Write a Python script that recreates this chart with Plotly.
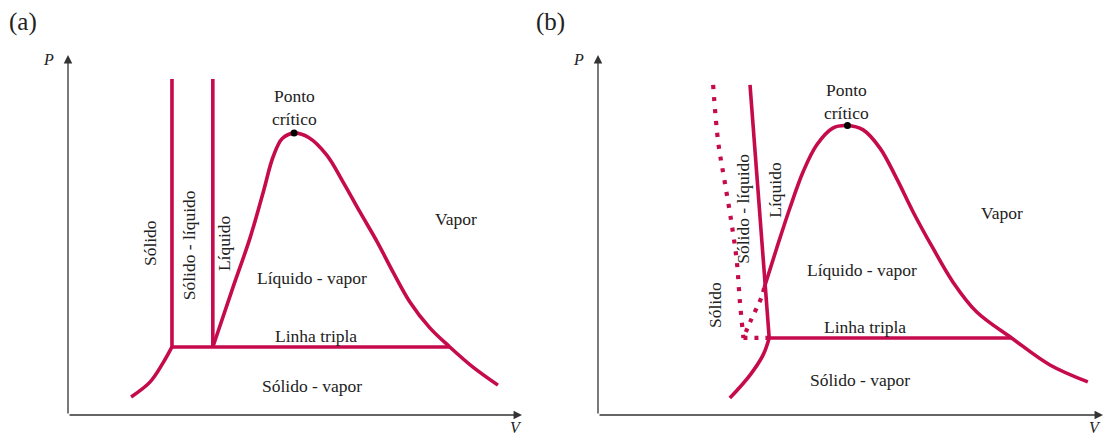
import plotly.graph_objects as go

RED = "#C50B4C"
FONT = "Liberation Serif"

# ---------------- Panel (a) data (arbitrary V, P units) ----------------
a_solid_liq_left_v = [2.29, 2.29]
a_solid_liq_left_p = [9.33, 1.89]
a_solid_liq_right_v = [3.19, 3.19]
a_solid_liq_right_p = [9.33, 1.89]
a_triple_v = [2.29, 8.41]
a_triple_p = [1.89, 1.89]
a_dome_v = [3.19, 3.63, 4.01, 4.30, 4.52, 4.72, 4.98, 5.30, 5.70, 6.06, 6.43, 6.81,
            7.16, 7.53, 7.97, 8.41, 8.92, 9.47]
a_dome_p = [1.89, 3.53, 4.92, 6.19, 7.18, 7.68, 7.83, 7.71, 7.22, 6.47, 5.64, 4.81,
            3.97, 3.14, 2.42, 1.89, 1.33, 0.83]
a_subl_v = [1.39, 1.81, 2.09, 2.29]
a_subl_p = [0.50, 0.92, 1.44, 1.89]
a_crit = (4.98, 7.83)

# ---------------- Panel (b) data ----------------
b_dotted_fus_v = [2.28, 2.38, 2.51, 2.65, 2.75, 2.81, 2.88]
b_dotted_fus_p = [9.17, 7.58, 6.47, 5.28, 4.25, 3.14, 2.14]
b_fus_v = [3.01, 3.39]
b_fus_p = [9.17, 2.14]
b_dome_v = [3.29, 3.54, 3.80, 4.06, 4.33, 4.65, 4.94, 5.25, 5.58, 5.91, 6.24, 6.63,
            7.03, 7.50, 8.19, 8.95, 9.70]
b_dome_p = [3.53, 4.64, 5.75, 6.75, 7.50, 7.97, 8.04, 7.92, 7.42, 6.58, 5.64, 4.64,
            3.69, 2.86, 2.14, 1.39, 0.92]
b_dotted_dome_v = [3.29, 3.24, 3.01, 2.88]
b_dotted_dome_p = [3.53, 3.28, 2.58, 2.14]
b_dotted_triple_v = [2.88, 3.39]
b_dotted_triple_p = [2.14, 2.14]
b_triple_v = [3.39, 8.19]
b_triple_p = [2.14, 2.14]
b_subl_v = [2.61, 3.01, 3.27, 3.39]
b_subl_p = [0.47, 1.11, 1.67, 2.14]
b_crit = (4.94, 8.04)

# labels: (text, V, P, angle)
a_labels = [
    ("Ponto<br>crítico", 4.98, 8.54, 0),
    ("Sólido", 1.81, 4.78, -90),
    ("Sólido - líquido", 2.67, 4.72, -90),
    ("Líquido", 3.44, 4.78, -90),
    ("Vapor", 8.55, 5.44, 0),
    ("Líquido - vapor", 5.37, 3.81, 0),
    ("Linha tripla", 5.46, 2.19, 0),
    ("Sólido - vapor", 5.37, 0.80, 0),
]
b_labels = [
    ("Ponto<br>crítico", 4.93, 8.72, 0),
    ("Sólido - líquido", 2.88, 5.74, -90),
    ("Líquido", 3.50, 6.25, -90),
    ("Sólido", 2.32, 3.06, -90),
    ("Vapor", 7.99, 5.60, 0),
    ("Líquido - vapor", 5.22, 4.03, 0),
    ("Linha tripla", 5.29, 2.45, 0),
    ("Sólido - vapor", 5.19, 0.97, 0),
]

W, H = 1105, 436
fig = go.Figure()

def line(xs, ys, xa, ya, dash="solid", shape="linear", width=3.6):
    fig.add_trace(go.Scatter(x=xs, y=ys, mode="lines", xaxis=xa, yaxis=ya,
                             line=dict(color=RED, width=width, dash=dash, shape=shape),
                             hoverinfo="skip", showlegend=False, cliponaxis=False))

# panel a
line(a_solid_liq_left_v, a_solid_liq_left_p, "x", "y")
line(a_solid_liq_right_v, a_solid_liq_right_p, "x", "y")
line(a_triple_v, a_triple_p, "x", "y")
line(a_dome_v, a_dome_p, "x", "y", shape="spline")
line(a_subl_v, a_subl_p, "x", "y", shape="spline")
fig.add_trace(go.Scatter(x=[a_crit[0]], y=[a_crit[1]], mode="markers", xaxis="x", yaxis="y",
                         marker=dict(color="black", size=7), showlegend=False, cliponaxis=False))
# panel b
line(b_dotted_fus_v, b_dotted_fus_p, "x2", "y2", dash="4px,8px", shape="spline", width=4.2)
line(b_fus_v, b_fus_p, "x2", "y2")
line(b_dome_v, b_dome_p, "x2", "y2", shape="spline")
line(b_dotted_dome_v, b_dotted_dome_p, "x2", "y2", dash="4px,7px", shape="spline", width=4.2)
line(b_dotted_triple_v, b_dotted_triple_p, "x2", "y2", dash="4px,7px", width=4.2)
line(b_triple_v, b_triple_p, "x2", "y2")
line(b_subl_v, b_subl_p, "x2", "y2", shape="spline")
fig.add_trace(go.Scatter(x=[b_crit[0]], y=[b_crit[1]], mode="markers", xaxis="x2", yaxis="y2",
                         marker=dict(color="black", size=7), showlegend=False, cliponaxis=False))

ydom = [(H - 415) / H, (H - 55) / H]
ax_common = dict(showgrid=False, zeroline=False, showticklabels=False, ticks="",
                 range=[0, 10], fixedrange=True)
fig.update_layout(
    width=W, height=H, margin=dict(l=0, r=0, t=0, b=0),
    paper_bgcolor="white", plot_bgcolor="white",
    xaxis=dict(domain=[68 / W, 522 / W], anchor="y", **ax_common),
    yaxis=dict(domain=ydom, anchor="x", **ax_common),
    xaxis2=dict(domain=[598 / W, 1103 / W], anchor="y2", **ax_common),
    yaxis2=dict(domain=ydom, anchor="x2", **ax_common),
    font=dict(family=FONT, color="#222"),
)

ann = []
AX = "#333333"
for xr, yr in (("x", "y"), ("x2", "y2")):
    # axes as arrows
    ann.append(dict(x=10, y=0, ax=0, ay=0, xref=xr, yref=yr, axref=xr, ayref=yr,
                    showarrow=True, arrowhead=2, arrowsize=1.3, arrowwidth=1.3,
                    arrowcolor=AX, text=""))
    ann.append(dict(x=0, y=10, ax=0, ay=0, xref=xr, yref=yr, axref=xr, ayref=yr,
                    showarrow=True, arrowhead=2, arrowsize=1.3, arrowwidth=1.3,
                    arrowcolor=AX, text=""))

for labels, xr, yr in ((a_labels, "x", "y"), (b_labels, "x2", "y2")):
    for t, vx, py, ang in labels:
        ann.append(dict(x=vx, y=py, xref=xr, yref=yr, text=t, showarrow=False,
                        textangle=ang, font=dict(family=FONT, size=17.5, color="#222"),
                        xanchor="center", yanchor="middle"))

# panel titles and axis letters
for t, px, py, sz, it in (("(a)", 23, 22, 25, False), ("(b)", 550, 22, 25, False),
                          ("P", 48, 60, 16, True), ("V", 516, 427, 16, True),
                          ("P", 578, 60, 16, True), ("V", 1095, 427, 16, True)):
    txt = f"<i>{t}</i>" if it else t
    ann.append(dict(x=px / W, y=(H - py) / H, xref="paper", yref="paper", text=txt,
                    showarrow=False, xanchor="center", yanchor="middle",
                    font=dict(family=FONT, size=sz, color="#222")))

fig.update_layout(annotations=ann)
fig.write_html("out.html")
